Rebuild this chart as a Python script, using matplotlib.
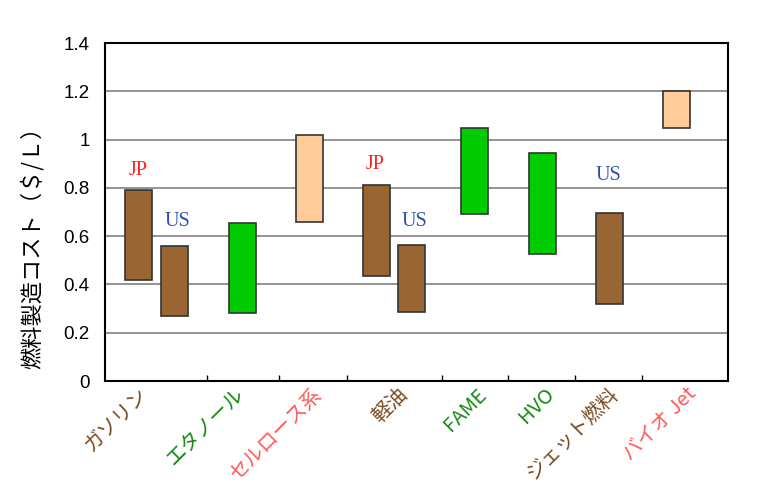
import matplotlib
matplotlib.use("Agg")
import matplotlib.pyplot as plt

plt.rcParams['font.family'] = ['Noto Sans CJK JP', 'DejaVu Sans']

# --- datos (coste $/L: mínimo y máximo) ---
barras = ["ガソリンJP", "ガソリンUS", "エタノール", "セルロース系", "軽油JP", "軽油US",
          "FAME", "HVO", "ジェット燃料US", "バイオ Jet"]
bajo = [0.42, 0.27, 0.28, 0.66, 0.435, 0.285, 0.69, 0.525, 0.32, 1.05]
alto = [0.79, 0.56, 0.655, 1.02, 0.81, 0.565, 1.05, 0.945, 0.695, 1.20]
tipo = ["fosil", "fosil", "bio1", "bio2", "fosil", "fosil", "bio1", "bio1", "fosil", "bio2"]

categorias = ["ガソリン", "エタノール", "セルロース系", "軽油", "FAME", "HVO", "ジェット燃料", "バイオ Jet"]
tipo_cat = ["fosil", "bio1", "bio2", "fosil", "bio1", "bio1", "fosil", "bio2"]

etiquetas_pais = ["JP", "US", "JP", "US", "US"]
pais_barra = [0, 1, 4, 5, 8]
pais_y = [0.87, 0.66, 0.895, 0.66, 0.853]

# --- layout (posiciones horizontales en px del eje) ---
pos_barras = [34, 70, 137, 204, 271, 306, 369.5, 437.5, 504.5, 571.5]
pos_pais = [33, 72, 270, 309, 503]
limites = [102, 174, 242, 337, 403, 470, 537]
pos_etiquetas = [32, 128, 206, 292, 371, 439, 503, 581]

color_barra = {"fosil": "#996633", "bio1": "#00CC00", "bio2": "#FFCC99"}
color_texto = {"fosil": "#7A4A1E", "bio1": "#138A13", "bio2": "#FF5A5A"}
color_pais = {"JP": "#FF2020", "US": "#2A4FB0"}

fig = plt.figure(figsize=(7.68, 4.95), dpi=100)
ax = fig.add_axes([0.1367, 0.2303, 0.8113, 0.6827])

alturas = [a - b for a, b in zip(alto, bajo)]
ax.bar(pos_barras, alturas, bottom=bajo, width=27,
       color=[color_barra[t] for t in tipo], edgecolor="#333333", linewidth=1.2, zorder=3)

for txt, i, y, x in zip(etiquetas_pais, pais_barra, pais_y, pos_pais):
    ax.text(x, y, txt, color=color_pais[txt], fontsize=14.5, family="Liberation Serif",
            ha="center", va="center", zorder=4)

ax.set_xlim(0, 623)
ax.set_ylim(0, 1.4)
ax.set_yticks([0, 0.2, 0.4, 0.6, 0.8, 1.0, 1.2, 1.4])
ax.set_yticklabels(["0", "0.2", "0.4", "0.6", "0.8", "1", "1.2", "1.4"],
                   family="Liberation Sans", fontsize=13.5)
ax.tick_params(axis="y", length=0, pad=11)
ax.yaxis.grid(True, color="#808080", linewidth=1.2, zorder=0)
ax.set_axisbelow(True)

ax.set_xticks(pos_etiquetas)
ax.set_xticklabels(categorias, rotation=45, ha="right", rotation_mode="anchor", fontsize=14.5)
for lab, t in zip(ax.get_xticklabels(), tipo_cat):
    lab.set_color(color_texto[t])
ax.tick_params(axis="x", which="major", length=0, pad=2)
ax.set_xticks(limites, minor=True)
ax.tick_params(axis="x", which="minor", direction="in", length=4, width=1, color="black")

for s in ax.spines.values():
    s.set_linewidth(1.5)
    s.set_color("black")

ax.set_ylabel("燃料製造コスト（＄/Ｌ）", fontsize=16)
ax.yaxis.set_label_coords(-0.098, 0.41)

fig.savefig("out.png", dpi=100)
